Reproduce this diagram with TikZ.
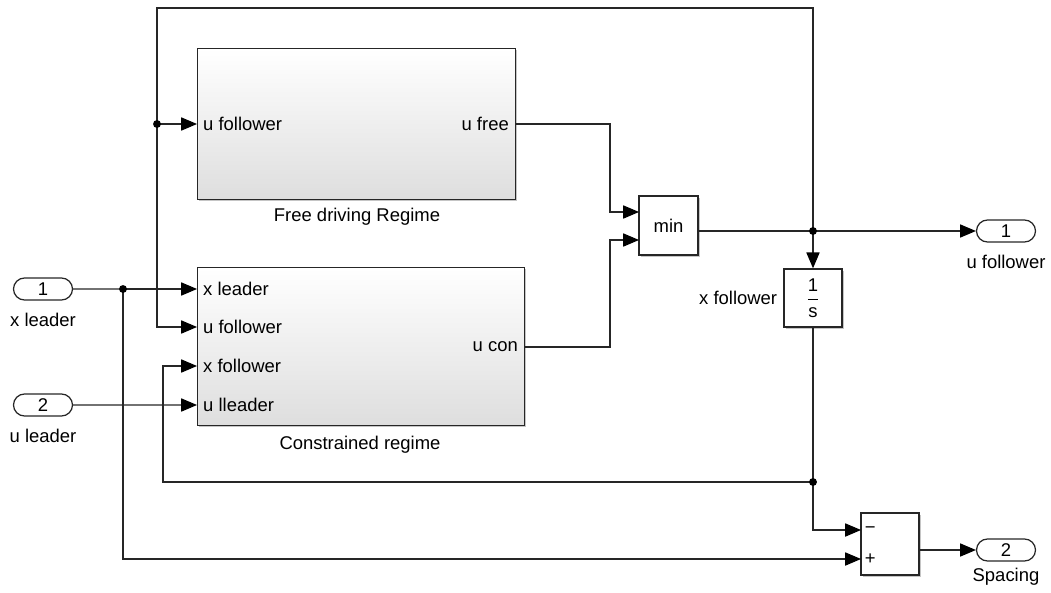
\documentclass[tikz,border=0pt]{standalone}
\usepackage{fontspec}
\setmainfont{Liberation Sans}
\usetikzlibrary{arrows.meta,shapes.misc,shadows}

\begin{document}
\begin{tikzpicture}[x=0.02cm, y=-0.02cm,
    font=\fontsize{10.5}{12}\selectfont,
    sig/.style={draw=black!85, line width=0.6pt},
    arr/.style={sig, -{Triangle[length=9pt,width=7.5pt,black]}},
    dot/.style={circle, fill=black, inner sep=0pt, minimum size=4.5pt},
    port/.style={draw=black!85, line width=0.7pt, rounded rectangle, minimum width=1.18cm, minimum height=0.44cm, inner sep=0pt},
    subsys/.style={draw=black!85, line width=0.8pt, top color=white, middle color=black!2, bottom color=black!13, drop shadow={shadow xshift=1pt, shadow yshift=-1pt, fill=black!45}, inner sep=0pt},
    blk/.style={draw=black!85, line width=0.8pt, fill=white, drop shadow={shadow xshift=1pt, shadow yshift=-1pt, fill=black!45}, inner sep=0pt}]
    \useasboundingbox (0,0) rectangle (1051,592);

    % Inports and outports
    \node[port] (in1) at (43,289) {1};
    \node (in1lbl) at (43,320) {x leader};
    \node[port] (in2) at (43,405) {2};
    \node (in2lbl) at (43,436) {u leader};
    \node[port] (out1) at (1006,231) {1};
    \node (out1lbl) at (1006,262) {u follower};
    \node[port] (out2) at (1006,550) {2};
    \node (out2lbl) at (1006,577) {Spacing};

    % Free driving subsystem
    \node[subsys, anchor=north west, minimum width=6.36cm, minimum height=3.02cm] (free) at (197,48) {};
    \node (freelbl) at (357,217) {Free driving Regime};
    \node[anchor=west] (free-uf) at (197,124) {u follower};
    \node[anchor=east] (free-uo) at (515,124) {u free};
    \coordinate (free-in) at (197,124);
    \coordinate (free-out) at (515,124);

    % Constrained subsystem
    \node[subsys, anchor=north west, minimum width=6.54cm, minimum height=3.16cm] (con) at (197,267) {};
    \node (conlbl) at (360,445) {Constrained regime};
    \node[anchor=west] (con-xllbl) at (197,289) {x leader};
    \node[anchor=west] (con-uflbl) at (197,327) {u follower};
    \node[anchor=west] (con-xflbl) at (197,366) {x follower};
    \node[anchor=west] (con-ullbl) at (197,405) {u lleader};
    \node[anchor=east] (con-uclbl) at (524,347) {u con};
    \coordinate (con-xl) at (197,289);
    \coordinate (con-uf) at (197,327);
    \coordinate (con-xf) at (197,366);
    \coordinate (con-ul) at (197,405);
    \coordinate (con-out) at (524,347);

    % Min, integrator and sum
    \node[blk, minimum width=1.18cm, minimum height=1.18cm] (minb) at (668.5,225.5) {min};
    \coordinate (min-in1) at (639,212);
    \coordinate (min-in2) at (639,240);
    \coordinate (min-out) at (698,231);
    \node[blk, minimum width=1.16cm, minimum height=1.16cm] (integ) at (813,298) {$\displaystyle\frac{\mbox{1}}{\mbox{s}}$};
    \node[anchor=east] (integlbl) at (integ.west) {x follower};
    \node[blk, minimum width=1.16cm, minimum height=1.24cm] (sum) at (890,544) {};
    \node[anchor=west, inner sep=1.5pt] (minus) at (862,530) {−};
    \node[anchor=west, inner sep=1.5pt] (plus) at (862,559) {+};
    \coordinate (sum-minus) at (861,530);
    \coordinate (sum-plus) at (861,559);
    \coordinate (sum-out) at (919,550);

    % Junctions
    \coordinate (j1) at (123,289);
    \coordinate (j2) at (813,231);
    \coordinate (j3) at (157,124);
    \coordinate (j4) at (813,482);
    \coordinate (top) at (813,8);

    % Signals
    \draw[sig] (in1) -- (j1);
    \draw[arr] (j1) -- (con-xl);
    \draw[arr] (j1) |- (sum-plus);
    \draw[arr] (in2) -- (con-ul);
    \draw[arr] (free-out) -- ++(95,0) |- (min-in1);
    \draw[arr] (con-out) -- ++(86,0) |- (min-in2);
    \draw[sig] (min-out) -- (j2);
    \draw[arr] (j2) -- (out1);
    \draw[arr] (j2) -- (integ);
    \draw[arr] (j2) -- (top) -| (j3) |- (con-uf);
    \draw[arr] (j3) -- (free-in);
    \draw[sig] (integ) -- (j4);
    \draw[arr] (j4) -- ++(-650,0) |- (con-xf);
    \draw[arr] (j4) |- (sum-minus);
    \draw[arr] (sum-out) -- (out2);

    % Branch points
    \node[dot] (d1) at (j1) {};
    \node[dot] (d2) at (j2) {};
    \node[dot] (d3) at (j3) {};
    \node[dot] (d4) at (j4) {};
\end{tikzpicture}
\end{document}
